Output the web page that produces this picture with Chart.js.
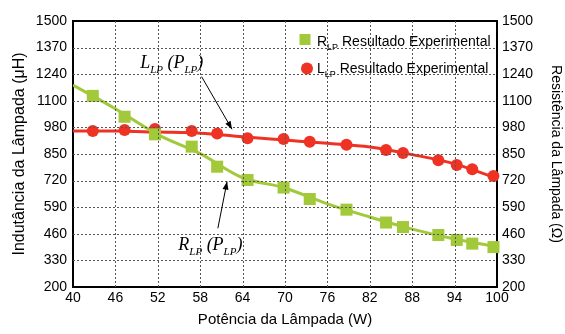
<!DOCTYPE html>
<html>
<head>
<meta charset="utf-8">
<script src="https://cdn.jsdelivr.net/npm/chart.js@4.4.1/dist/chart.umd.min.js"></script>
<style>
    html, body { margin: 0; padding: 0; background: #fff; }
</style>
</head>
<body>
<canvas id="chart" width="565" height="334"></canvas>
<script>
// pontos medidos (potência em W)
const potencia = [42.8, 47.3, 51.6, 56.8, 60.4, 64.7, 69.8, 73.5, 78.7, 84.3, 86.7, 91.7, 94.3, 96.5, 99.5];
const indutancia = [962, 967, 972, 962, 950, 927, 923, 910, 895, 870, 855, 819, 796, 775, 743];
const resistencia = [1134, 1032, 946, 886, 788, 723, 686, 630, 578, 515, 493, 454, 430, 412, 395];

const potenciaCurva = [40, 46, 52, 58, 64, 70, 76, 82, 88, 94, 100];
const curvaIndutancia = [962, 962, 957, 952, 934, 918, 902, 884, 847, 802, 731];
const curvaResistencia = [1187, 1071, 945, 852, 734, 684, 606, 542, 483, 435, 397];

// eixos
const valoresX = [40, 46, 52, 58, 64, 70, 76, 82, 88, 94, 100];
const valoresY = [200, 330, 460, 590, 720, 850, 980, 1110, 1240, 1370, 1500];
const rotulosY = ["200", "330", "460", "590", "720", "850", "980", "1100", "1240", "1370", "1500"];

const VERDE = "#a2c93a";
const VERMELHO = "#ee3224";
const FONTE = "Arial, 'Liberation Sans', Helvetica, sans-serif";
const SERIFA = "'Times New Roman', 'Liberation Serif', serif";

const pares = (xs, ys) => xs.map((x, i) => ({ x: x, y: ys[i] }));

// texto com subscrito: partes = [[texto, ehSubscrito], ...]
function textoComIndice(ctx, partes, x, y, tam, familia, estilo) {
    partes.forEach(([t, sub]) => {
        ctx.font = `${estilo} ${sub ? Math.round(tam * 0.62) : tam}px ${familia}`;
        ctx.fillText(t, x, sub ? y + tam * 0.3 : y);
        x += ctx.measureText(t).width;
    });
}

const anotacoes = [
    { partes: [["L", 0], ["LP", 1], [" (", 0], ["P", 0], ["LP", 1], [")", 0]], x: 49.5, y: 1270, seta: [58.2, 1228, 62.5, 971] },
    { partes: [["R", 0], ["LP", 1], [" (", 0], ["P", 0], ["LP", 1], [")", 0]], x: 54.9, y: 381, seta: [60.5, 487, 61.8, 715] },
];

// grade pontilhada nas marcas dos eixos
function grade(ctx, a, scales) {
    ctx.fillStyle = "#555";
    scales.x.ticks.forEach((t) => {
        const px = Math.round(scales.x.getPixelForValue(t.value));
        if (px <= a.left + 2 || px >= a.right - 2) return;
        for (let y = Math.ceil(a.top); y < a.bottom; y += 4) ctx.fillRect(px, y, 1, 2);
    });
    scales.y.ticks.forEach((t) => {
        const py = Math.round(scales.y.getPixelForValue(t.value));
        if (py <= a.top + 2 || py >= a.bottom - 2) return;
        for (let x = Math.ceil(a.left); x < a.right; x += 4) ctx.fillRect(x, py, 2, 1);
    });
}

const moldura = {
    id: "moldura",
    beforeDatasetsDraw(chart) {
        const { ctx, chartArea: a } = chart;
        ctx.save();
        ctx.strokeStyle = "#000";
        ctx.lineWidth = 2;
        ctx.strokeRect(a.left, a.top, a.right - a.left, a.bottom - a.top);
        ctx.restore();
    },
    afterDatasetsDraw(chart) {
        const { ctx, chartArea: a, scales } = chart;
        ctx.save();
        grade(ctx, a, scales);

        ctx.fillStyle = "#000";
        ctx.strokeStyle = "#000";
        ctx.textBaseline = "alphabetic";

        // setas e rótulos das curvas
        anotacoes.forEach((n) => {
            const x0 = scales.x.getPixelForValue(n.seta[0]);
            const y0 = scales.y.getPixelForValue(n.seta[1]);
            const x1 = scales.x.getPixelForValue(n.seta[2]);
            const y1 = scales.y.getPixelForValue(n.seta[3]);
            ctx.lineWidth = 1;
            ctx.beginPath();
            ctx.moveTo(x0, y0);
            ctx.lineTo(x1, y1);
            ctx.stroke();
            const ang = Math.atan2(y1 - y0, x1 - x0);
            ctx.beginPath();
            ctx.moveTo(x1, y1);
            ctx.lineTo(x1 - 8 * Math.cos(ang) + 3 * Math.sin(ang), y1 - 8 * Math.sin(ang) - 3 * Math.cos(ang));
            ctx.lineTo(x1 - 8 * Math.cos(ang) - 3 * Math.sin(ang), y1 - 8 * Math.sin(ang) + 3 * Math.cos(ang));
            ctx.closePath();
            ctx.fill();
            textoComIndice(ctx, n.partes, scales.x.getPixelForValue(n.x), scales.y.getPixelForValue(n.y), 18, SERIFA, "italic");
        });

        // legenda
        const lx = a.right - 192;
        ctx.fillStyle = VERDE;
        ctx.fillRect(lx - 5.5, a.top + 13, 11, 11);
        ctx.fillStyle = VERMELHO;
        ctx.beginPath();
        ctx.arc(lx + 2, a.top + 47.5, 6, 0, Math.PI * 2);
        ctx.fill();
        ctx.fillStyle = "#000";
        textoComIndice(ctx, [["R", 0], ["LP", 1], [" Resultado Experimental", 0]], lx + 12, a.top + 25, 14, FONTE, "");
        textoComIndice(ctx, [["L", 0], ["LP", 1], [" Resultado Experimental", 0]], lx + 12, a.top + 52, 14, FONTE, "");
        ctx.restore();
    },
};

new Chart(document.getElementById("chart").getContext("2d"), {
    type: "line",
    data: {
        datasets: [
            {
                data: pares(potencia, resistencia),
                yAxisID: "y2",
                showLine: false,
                pointStyle: "rect",
                pointRadius: 8.5,
                backgroundColor: VERDE,
                borderWidth: 0,
                clip: false,
                order: 0,
            },
            {
                data: pares(potencia, indutancia),
                yAxisID: "y",
                showLine: false,
                pointStyle: "circle",
                pointRadius: 6,
                backgroundColor: VERMELHO,
                borderWidth: 0,
                clip: false,
                order: 1,
            },
            {
                data: pares(potenciaCurva, curvaResistencia),
                yAxisID: "y2",
                borderColor: VERDE,
                borderWidth: 3,
                pointRadius: 0,
                cubicInterpolationMode: "monotone",
                order: 2,
            },
            {
                data: pares(potenciaCurva, curvaIndutancia),
                yAxisID: "y",
                borderColor: VERMELHO,
                borderWidth: 3,
                pointRadius: 0,
                cubicInterpolationMode: "monotone",
                order: 3,
            },
        ],
    },
    options: {
        responsive: false,
        animation: false,
        devicePixelRatio: 1,
        layout: { padding: { top: 21, left: 0, right: 0, bottom: 0 } },
        plugins: { legend: { display: false }, tooltip: { enabled: false } },
        scales: {
            x: {
                type: "linear",
                min: 40,
                max: 100,
                afterBuildTicks: (s) => { s.ticks = valoresX.map((v) => ({ value: v })); },
                afterFit: (s) => { s.height = 47; },
                ticks: { color: "#000", font: { family: FONTE, size: 14 }, padding: 3, maxRotation: 0 },
                grid: { display: false, drawTicks: false },
                border: { display: false },
                title: {
                    display: true,
                    text: "Potência da Lâmpada (W)",
                    color: "#000",
                    font: { family: FONTE, size: 15 },
                    padding: { top: 0, bottom: 5 },
                },
            },
            y: {
                position: "left",
                min: 200,
                max: 1500,
                afterBuildTicks: (s) => { s.ticks = valoresY.map((v) => ({ value: v })); },
                afterFit: (s) => { s.width = 73; },
                ticks: { color: "#000", font: { family: FONTE, size: 14 }, padding: 6, callback: (v, i) => rotulosY[i] },
                grid: { display: false, drawTicks: false },
                border: { display: false },
                title: {
                    display: true,
                    text: "Indutância da Lâmpada (μH)",
                    color: "#000",
                    font: { family: FONTE, size: 16 },
                    padding: { top: 10, bottom: 0 },
                },
            },
            y2: {
                position: "right",
                min: 200,
                max: 1500,
                afterBuildTicks: (s) => { s.ticks = valoresY.map((v) => ({ value: v })); },
                afterFit: (s) => { s.width = 68; },
                ticks: { color: "#000", font: { family: FONTE, size: 14 }, padding: 5, callback: (v, i) => rotulosY[i] },
                grid: { display: false, drawTicks: false },
                border: { display: false },
                title: {
                    display: true,
                    text: "Resistência da Lâmpada (Ω)",
                    color: "#000",
                    font: { family: FONTE, size: 14 },
                    padding: { top: 1, bottom: 0 },
                },
            },
        },
    },
    plugins: [moldura],
});
</script>
</body>
</html>
